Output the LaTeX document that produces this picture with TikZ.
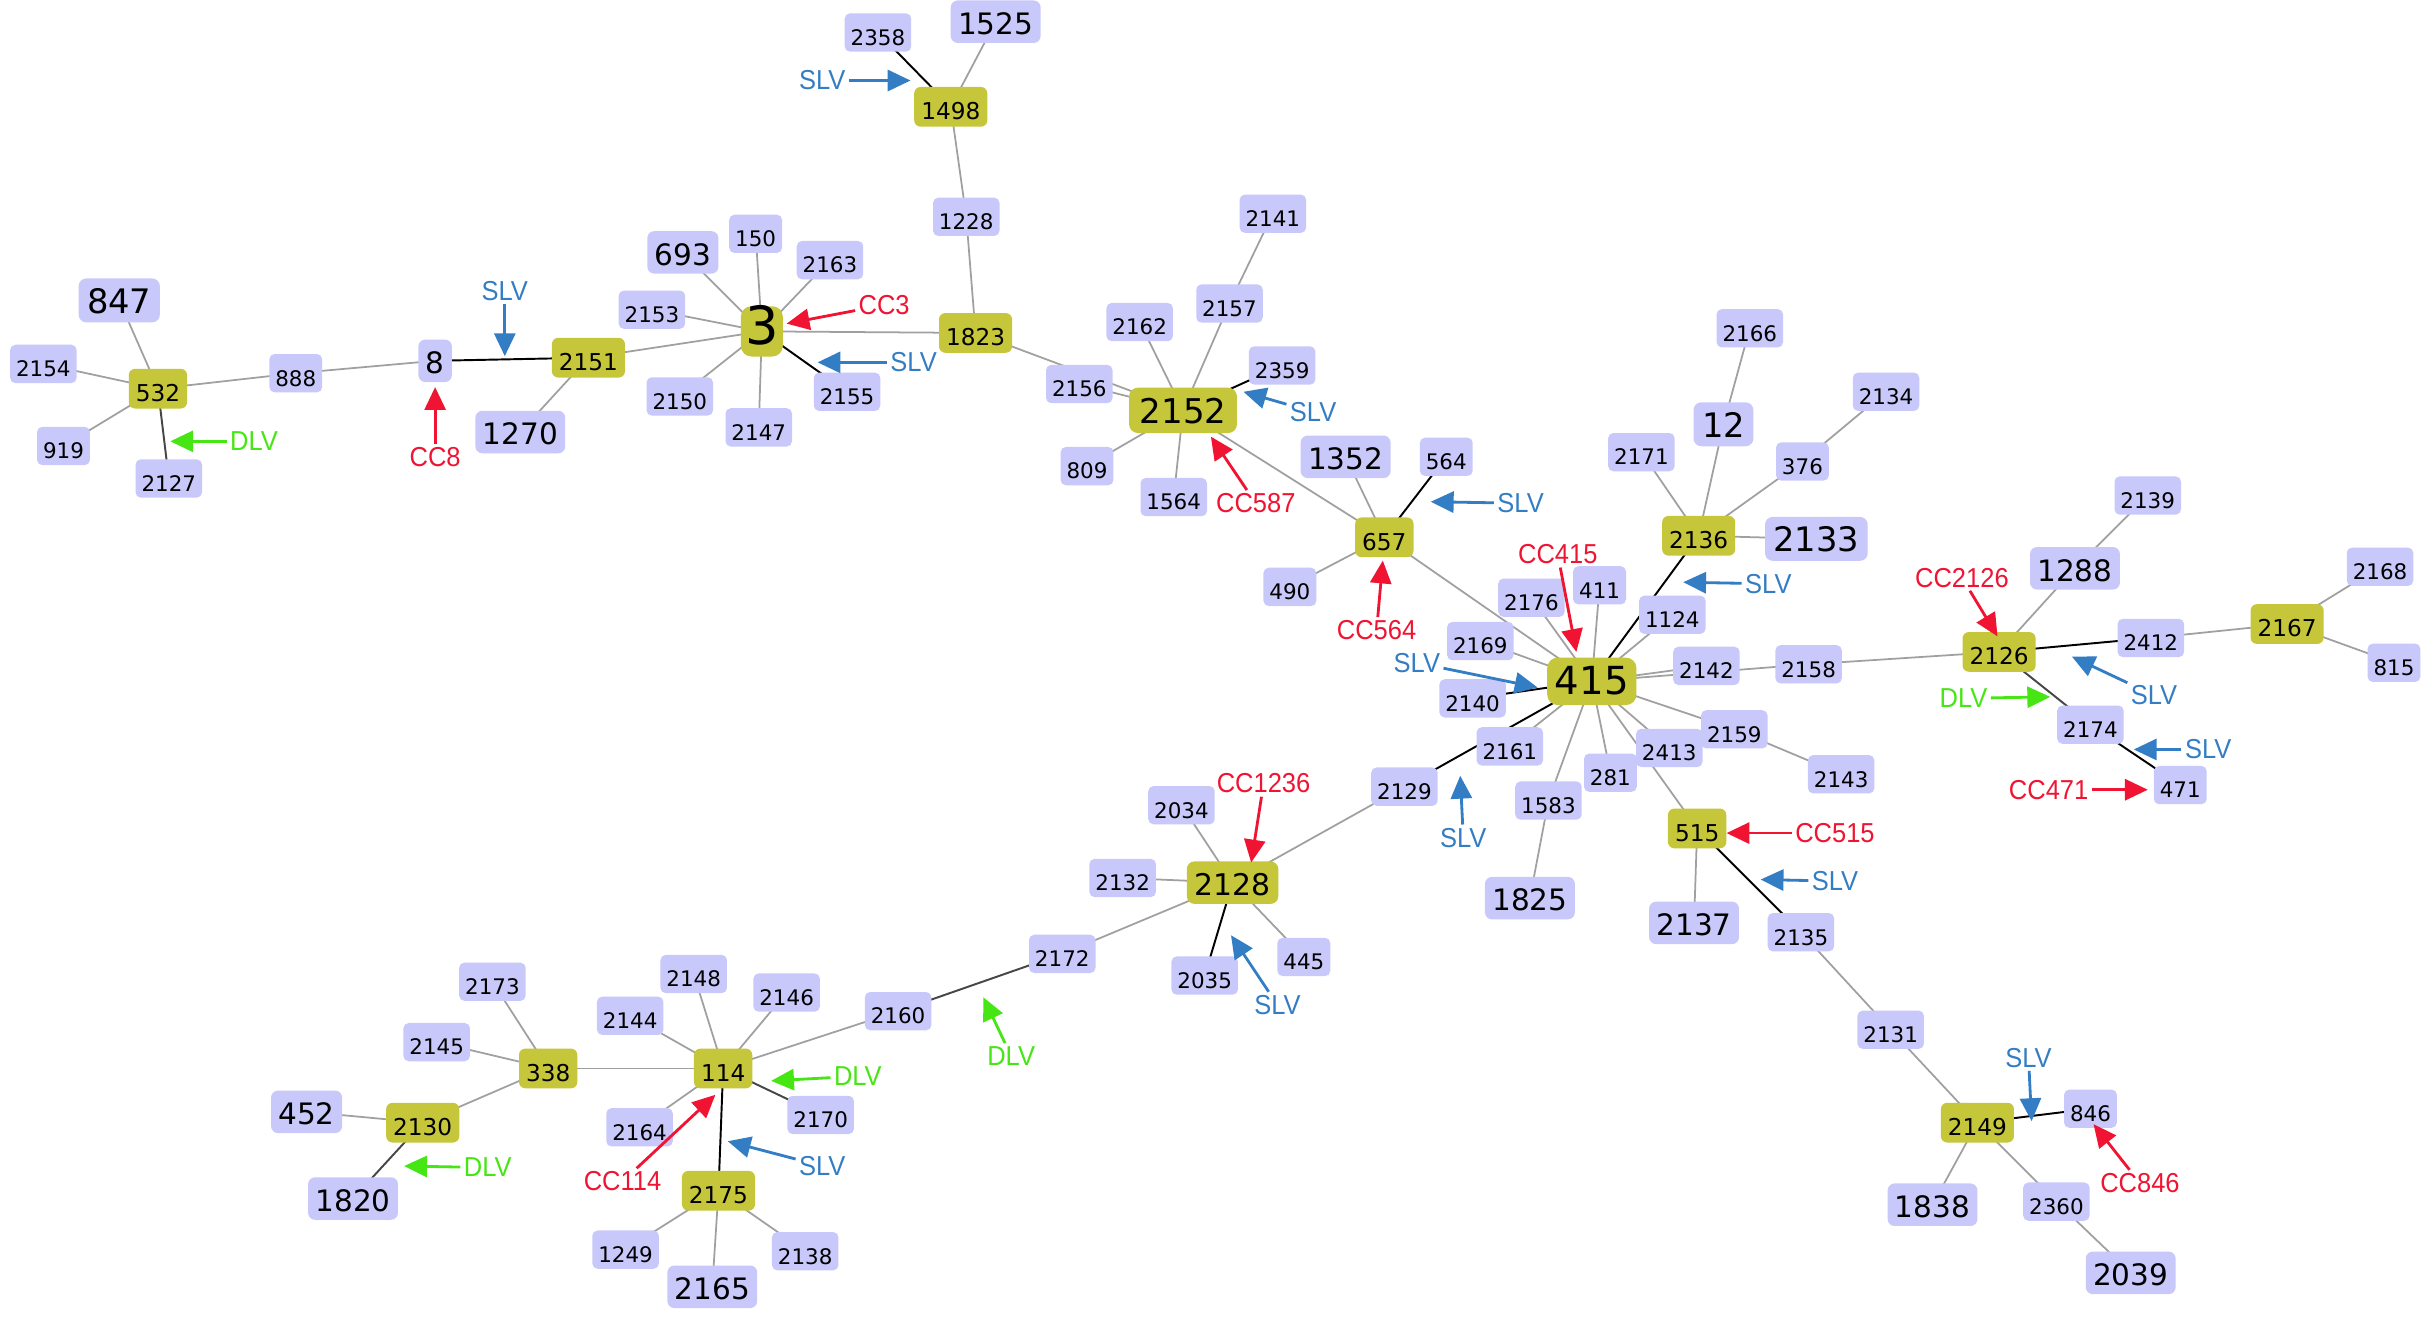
\documentclass[tikz,border=0pt]{standalone}
\usepackage{fontspec}
\setmainfont{DejaVu Sans}
\newfontfamily\lblfont[FakeStretch=0.93]{Liberation Sans}
\usetikzlibrary{arrows.meta,backgrounds}
\definecolor{lav}{RGB}{200,200,250}
\definecolor{olive}{RGB}{198,198,58}
\definecolor{edgegray}{RGB}{160,160,160}
\definecolor{dlvedge}{RGB}{70,70,70}
\definecolor{ccred}{RGB}{240,20,50}
\definecolor{slvblue}{RGB}{50,125,195}
\definecolor{dlvgreen}{RGB}{70,230,20}
\tikzset{
  box/.style={rounded corners=1.5pt, text height=0.73em, text depth=0pt, align=center},
  sn/.style={box, fill=lav, font=\fontsize{6.1}{7}\selectfont, inner xsep=1.7pt, inner ysep=1.8pt},
  mn/.style={box, fill=lav, font=\fontsize{8.4}{9}\selectfont, inner xsep=2.1pt, inner ysep=2.4pt, rounded corners=2pt},
  ln/.style={box, fill=lav, font=\fontsize{9.6}{11}\selectfont, inner xsep=2.4pt, inner ysep=2.6pt, rounded corners=2.2pt},
  yn/.style={box, fill=olive, font=\fontsize{6.6}{8}\selectfont, inner xsep=2pt, inner ysep=2pt, rounded corners=1.8pt},
  ymn/.style={box, fill=olive, font=\fontsize{8.5}{10}\selectfont, inner xsep=2.2pt, inner ysep=2.4pt, rounded corners=2.2pt},
  yln/.style={box, fill=olive, font=\fontsize{9.7}{11}\selectfont, inner xsep=3pt, inner ysep=2.8pt, rounded corners=2.5pt},
  yxl/.style={box, fill=olive, font=\fontsize{11}{13}\selectfont, inner xsep=2.2pt, inner ysep=3.1pt, rounded corners=3pt},
  yxxl/.style={box, fill=olive, font=\fontsize{15}{17}\selectfont, inner xsep=1.2pt, inner ysep=3.5pt, rounded corners=3pt},
  gl/.style={draw=edgegray, line width=0.5pt},
  bl/.style={draw=black, line width=0.55pt},
  dl/.style={draw=dlvedge, line width=0.55pt},
  lbl/.style={font=\lblfont\fontsize{7.8}{9}\selectfont, inner sep=0.8pt},
  redlbl/.style={lbl, text=ccred},
  bluelbl/.style={lbl, text=slvblue},
  greenlbl/.style={lbl, text=dlvgreen},
  arr/.style={line width=0.8pt, -{Triangle[length=6.5pt,width=6pt]}},
}
\begin{document}
\begin{tikzpicture}[x=0.015485cm,y=-0.015485cm]
\useasboundingbox (0,0) rectangle (1568,851);
% ---------- nodes ----------
% top cluster
\node[sn] (n2358) at (567,21) {2358};
\node[mn] (n1525) at (643,14) {1525};
\node[yn] (n1498) at (614,69) {1498};
\node[sn] (n1228) at (624,140) {1228};
\node[yn] (n1823) at (630,215) {1823};
\node[yxxl] (n3) at (492,214) {3};
\node[sn] (n150) at (488,151) {150};
\node[mn] (n693) at (441,163) {693};
\node[sn] (n2163) at (536,168) {2163};
\node[sn] (n2153) at (421,200) {2153};
\node[sn] (n2150) at (439,256) {2150};
\node[sn] (n2147) at (490,276) {2147};
\node[sn] (n2155) at (547,253) {2155};
\node[yn] (n2151) at (380,231) {2151};
\node[mn] (n8) at (281,233) {8};
\node[mn] (n1270) at (336,279) {1270};
\node[sn] (n888) at (191,241) {888};
\node[yn] (n532) at (102,251) {532};
\node[ln] (n847) at (77,194) {847};
\node[sn] (n2154) at (28,235) {2154};
\node[sn] (n919) at (41,288) {919};
\node[sn] (n2127) at (109,309) {2127};
% 2152 cluster
\node[yln] (n2152) at (764,265) {2152};
\node[sn] (n2156) at (697,248) {2156};
\node[sn] (n2162) at (736,208) {2162};
\node[sn] (n2157) at (794,196) {2157};
\node[sn] (n2141) at (822,138) {2141};
\node[sn] (n2359) at (828,236) {2359};
\node[sn] (n809) at (702,301) {809};
\node[sn] (n1564) at (758,321) {1564};
% 657 cluster
\node[yn] (n657) at (894,347) {657};
\node[mn] (n1352) at (869,295) {1352};
\node[sn] (n564) at (934,295) {564};
\node[sn] (n490) at (833,379) {490};
% 415 cluster
\node[yxl] (n415) at (1028,440) {415};
\node[sn] (n2176) at (989,386) {2176};
\node[sn] (n411) at (1033,378) {411};
\node[sn] (n1124) at (1080,397) {1124};
\node[sn] (n2169) at (956,414) {2169};
\node[sn] (n2140) at (951,451) {2140};
\node[sn] (n2142) at (1102,430) {2142};
\node[sn] (n2158) at (1168,429) {2158};
\node[sn] (n2159) at (1120,471) {2159};
\node[sn] (n2143) at (1189,500) {2143};
\node[sn] (n2413) at (1078,483) {2413};
\node[sn] (n281) at (1040,499) {281};
\node[sn] (n1583) at (1000,517) {1583};
\node[mn] (n1825) at (988,580) {1825};
\node[sn] (n2161) at (975,482) {2161};
\node[sn] (n2129) at (907,508) {2129};
\node[yn] (n515) at (1096,535) {515};
\node[mn] (n2137) at (1094,596) {2137};
\node[sn] (n2135) at (1163,602) {2135};
\node[sn] (n2131) at (1221,665) {2131};
\node[yn] (n2149) at (1277,725) {2149};
\node[sn] (n846) at (1350,716) {846};
\node[mn] (n1838) at (1248,778) {1838};
\node[sn] (n2360) at (1328,776) {2360};
\node[mn] (n2039) at (1376,822) {2039};
% 2136 cluster
\node[yn] (n2136) at (1097,346) {2136};
\node[sn] (n2171) at (1060,292) {2171};
\node[ln] (n12) at (1113,274) {12};
\node[sn] (n2166) at (1130,212) {2166};
\node[sn] (n376) at (1164,298) {376};
\node[sn] (n2134) at (1218,253) {2134};
\node[ln] (n2133) at (1173,348) {2133};
% 2126 cluster
\node[yn] (n2126) at (1291,421) {2126};
\node[mn] (n1288) at (1340,367) {1288};
\node[sn] (n2139) at (1387,320) {2139};
\node[sn] (n2412) at (1389,412) {2412};
\node[yn] (n2167) at (1477,403) {2167};
\node[sn] (n2168) at (1537,366) {2168};
\node[sn] (n815) at (1546,428) {815};
\node[sn] (n2174) at (1350,468) {2174};
\node[sn] (n471) at (1408,507) {471};
% 2128 cluster
\node[ymn] (n2128) at (796,570) {2128};
\node[sn] (n2034) at (763,520) {2034};
\node[sn] (n2132) at (725,567) {2132};
\node[sn] (n2035) at (778,630) {2035};
\node[sn] (n445) at (842,618) {445};
\node[sn] (n2172) at (686,616) {2172};
\node[sn] (n2160) at (580,653) {2160};
% 114 cluster
\node[yn] (n114) at (467,690) {114};
\node[sn] (n2148) at (448,629) {2148};
\node[sn] (n2146) at (508,641) {2146};
\node[sn] (n2144) at (407,656) {2144};
\node[sn] (n2164) at (413,728) {2164};
\node[sn] (n2170) at (530,720) {2170};
\node[yn] (n338) at (354,690) {338};
\node[sn] (n2173) at (318,634) {2173};
\node[sn] (n2145) at (282,673) {2145};
\node[yn] (n2130) at (273,725) {2130};
\node[mn] (n452) at (198,718) {452};
\node[mn] (n1820) at (228,774) {1820};
\node[yn] (n2175) at (464,769) {2175};
\node[sn] (n1249) at (404,807) {1249};
\node[mn] (n2165) at (460,831) {2165};
\node[sn] (n2138) at (520,808) {2138};
% ---------- edges ----------
\begin{pgfonlayer}{background}
\fill[white] (0,0) rectangle (1568,851);
\foreach \a/\b in {1498/1525,1498/1228,1228/1823,1823/3,1823/2152,
  3/150,3/693,3/2163,3/2153,3/2151,3/2150,3/2147,2151/1270,8/888,888/532,
  532/847,532/2154,532/919,
  2152/2156,2152/2162,2152/2157,2157/2141,2152/809,2152/1564,2152/657,
  657/1352,657/490,657/415,
  415/2176,415/411,415/1124,415/2169,415/2142,415/2158,415/2159,2159/2143,
  415/2413,415/515,415/281,415/1583,1583/1825,415/2161,
  515/2137,2135/2131,2131/2149,2149/1838,2149/2360,2360/2039,
  2136/2171,2136/12,12/2166,2136/376,376/2134,2136/2133,
  2158/2126,2126/1288,1288/2139,2412/2167,2167/2168,2167/815,
  2129/2128,2128/2034,2128/2132,2128/445,2128/2172,2160/114,
  114/2148,114/2146,114/2144,114/2164,114/338,
  338/2173,338/2145,338/2130,2130/452,
  2175/1249,2175/2165,2175/2138}
  {\draw[gl] (n\a.center) -- (n\b.center);}
\foreach \a/\b in {1498/2358,3/2155,2151/8,2152/2359,657/564,415/2136,
  415/2140,415/2129,2126/2412,2174/471,515/2135,2149/846,2128/2035,114/2175}
  {\draw[bl] (n\a.center) -- (n\b.center);}
\foreach \a/\b in {532/2127,2126/2174,114/2170,2130/1820,2160/2172}
  {\draw[dl] (n\a.center) -- (n\b.center);}
\end{pgfonlayer}
% ---------- annotation arrows ----------
% label nodes
\node[bluelbl] (s1) at (531,52) {SLV};
\node[bluelbl] (s2) at (326,188) {SLV};
\node[redlbl] (c8) at (281,295) {CC8};
\node[redlbl] (c3) at (571,197) {CC3};
\node[bluelbl] (s3) at (590,234) {SLV};
\node[greenlbl] (d1) at (164,285) {DLV};
\node[bluelbl] (s4) at (848,266) {SLV};
\node[redlbl] (c587) at (811,325) {CC587};
\node[bluelbl] (s5) at (982,325) {SLV};
\node[redlbl] (c564) at (889,407) {CC564};
\node[redlbl] (c415) at (1006,358) {CC415};
\node[bluelbl] (s6) at (1142,377) {SLV};
\node[bluelbl] (s7) at (915,428) {SLV};
\node[bluelbl] (s8) at (945,541) {SLV};
\node[redlbl] (c1236) at (816,506) {CC1236};
\node[bluelbl] (s9) at (825,649) {SLV};
\node[greenlbl] (d2) at (653,682) {DLV};
\node[greenlbl] (d3) at (554,695) {DLV};
\node[bluelbl] (s10) at (531,753) {SLV};
\node[redlbl] (c114) at (402,763) {CC114};
\node[greenlbl] (d4) at (315,754) {DLV};
\node[redlbl] (c515) at (1185,538) {CC515};
\node[bluelbl] (s11) at (1185,569) {SLV};
\node[bluelbl] (s12) at (1310,683) {SLV};
\node[redlbl] (c846) at (1382,764) {CC846};
\node[redlbl] (c2126) at (1267,373) {CC2126};
\node[greenlbl] (d5) at (1268,451) {DLV};
\node[bluelbl] (s13) at (1391,449) {SLV};
\node[bluelbl] (s14) at (1426,484) {SLV};
\node[redlbl] (c471) at (1323,510) {CC471};
% arrow tips
\coordinate (ts1) at (588,52);
\coordinate (ts2) at (326,230);
\coordinate (tc8) at (281,250);
\coordinate (tc3) at (508,209);
\coordinate (ts3) at (528,234);
\coordinate (td1) at (110,285);
\coordinate (ts4) at (803,253);
\coordinate (tc587) at (782,282);
\coordinate (ts5) at (924,324);
\coordinate (tc564) at (893,362);
\coordinate (tc415) at (1018,421);
\coordinate (ts6) at (1087,376);
\coordinate (ts7) at (993,444);
\coordinate (ts8) at (943,501);
\coordinate (tc1236) at (808,557);
\coordinate (ts9) at (795,604);
\coordinate (td2) at (635,644);
\coordinate (td3) at (498,698);
\coordinate (ts10) at (470,737);
\coordinate (tc114) at (462,707);
\coordinate (td4) at (261,753);
\coordinate (tc515) at (1115,538);
\coordinate (ts11) at (1137,568);
\coordinate (ts12) at (1312,724);
\coordinate (tc846) at (1352,726);
\coordinate (tc2126) at (1290,411);
\coordinate (td5) at (1324,450);
\coordinate (ts13) at (1338,424);
\coordinate (ts14) at (1378,484);
\coordinate (tc471) at (1387,510);
\foreach \l/\t in {s1/ts1,s2/ts2,s3/ts3,s4/ts4,s5/ts5,s6/ts6,s7/ts7,s8/ts8,s9/ts9,s10/ts10,s11/ts11,s12/ts12,s13/ts13,s14/ts14}
  {\draw[arr, slvblue] (\l) -- (\t);}
\foreach \l/\t in {c8/tc8,c3/tc3,c587/tc587,c564/tc564,c415/tc415,c1236/tc1236,c114/tc114,c515/tc515,c846/tc846,c2126/tc2126,c471/tc471}
  {\draw[arr, ccred] (\l) -- (\t);}
\foreach \l/\t in {d1/td1,d2/td2,d3/td3,d4/td4,d5/td5}
  {\draw[arr, dlvgreen] (\l) -- (\t);}
\end{tikzpicture}
\end{document}
